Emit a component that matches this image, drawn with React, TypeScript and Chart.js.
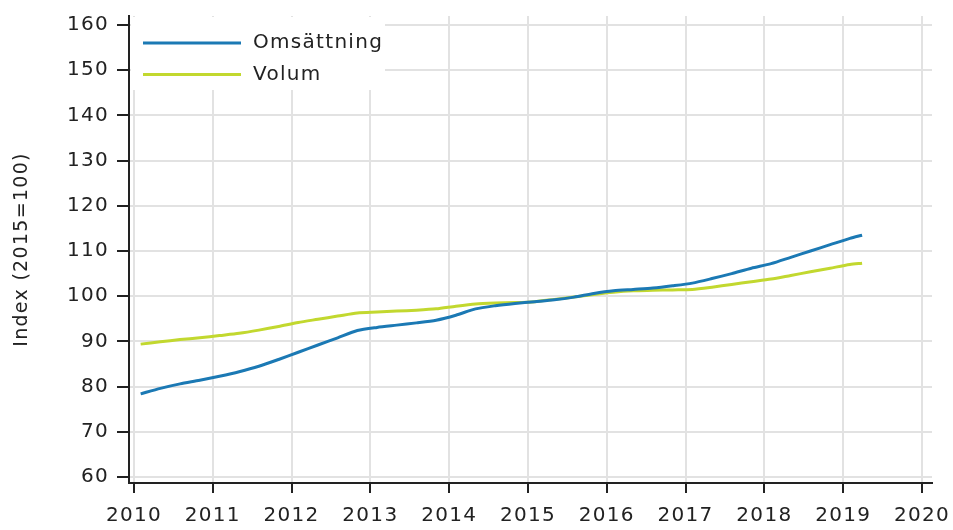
import React, { useEffect, useRef } from "react";
import { Chart, registerables } from "chart.js";

Chart.register(...registerables);

const seriesNames = ["Omsättning", "Volum"];
const seriesColors = ["#1b79b4", "#c2d82f"];
const yAxisTitle = "Index (2015=100)";

// decimal-year positions of quarterly observations
const periods = [
  2010.085, 2010.335, 2010.585, 2010.835,
  2011.085, 2011.335, 2011.585, 2011.835,
  2012.085, 2012.335, 2012.585, 2012.835,
  2013.085, 2013.335, 2013.585, 2013.835,
  2014.085, 2014.335, 2014.585, 2014.835,
  2015.085, 2015.335, 2015.585, 2015.835,
  2016.085, 2016.335, 2016.585, 2016.835,
  2017.085, 2017.335, 2017.585, 2017.835,
  2018.085, 2018.335, 2018.585, 2018.835,
  2019.085, 2019.24,
];

const omsattning = [
  78.4, 79.6, 80.6, 81.4,
  82.3, 83.3, 84.5, 86.0,
  87.6, 89.2, 90.8, 92.4,
  93.1, 93.6, 94.1, 94.7,
  95.8, 97.2, 97.9, 98.4,
  98.8, 99.2, 99.8, 100.6,
  101.2, 101.5, 101.8, 102.3,
  102.9, 103.9, 105.0, 106.2,
  107.2, 108.6, 110.0, 111.4,
  112.8, 113.5,
];

const volum = [
  89.4, 89.9, 90.4, 90.8,
  91.3, 91.8, 92.5, 93.3,
  94.2, 94.9, 95.6, 96.3,
  96.5, 96.7, 96.9, 97.2,
  97.8, 98.3, 98.5, 98.6,
  98.8, 99.3, 99.8, 100.4,
  100.9, 101.2, 101.3, 101.4,
  101.5, 102.0, 102.6, 103.2,
  103.8, 104.6, 105.4, 106.2,
  107.0, 107.3,
];

const xTicks = [2010, 2011, 2012, 2013, 2014, 2015, 2016, 2017, 2018, 2019, 2020];
const yTicks = [60, 70, 80, 90, 100, 110, 120, 130, 140, 150, 160];

const FONT = "'DejaVu Sans', sans-serif";
const SPACING = "1.3px";

const spacingPlugin = {
  id: "letterSpacing",
  beforeDraw(chart: any) {
    (chart.ctx as any).letterSpacing = SPACING;
  },
};

const legendPlugin = {
  id: "insideLegend",
  afterDraw(chart: any) {
    const ctx = chart.ctx;
    const area = chart.chartArea;
    const x0 = area.left + 2;
    const y0 = area.top + 1;
    ctx.save();
    (ctx as any).letterSpacing = SPACING;
    ctx.fillStyle = "#ffffff";
    ctx.fillRect(x0, y0, 254, 73);
    chart.data.datasets.forEach((ds: any, i: number) => {
      const y = y0 + 26 + i * 31.5;
      ctx.strokeStyle = ds.borderColor;
      ctx.lineWidth = 3;
      ctx.beginPath();
      ctx.moveTo(x0 + 12, y);
      ctx.lineTo(x0 + 110, y);
      ctx.stroke();
      ctx.fillStyle = "#222222";
      ctx.font = `20px ${FONT}`;
      ctx.textBaseline = "middle";
      ctx.textAlign = "left";
      ctx.fillText(ds.label, x0 + 122, y);
    });
    ctx.restore();
  },
};

export default function App() {
  const ref = useRef<HTMLCanvasElement | null>(null);

  useEffect(() => {
    document.body.style.margin = "0";
    const canvas = ref.current;
    if (!canvas) return;
    const chart = new Chart(canvas, {
      type: "line",
      data: {
        datasets: [
          {
            label: seriesNames[0],
            data: periods.map((p, i) => ({ x: p, y: omsattning[i] })),
            borderColor: seriesColors[0],
            backgroundColor: seriesColors[0],
            borderWidth: 3,
            pointRadius: 0,
            tension: 0.25,
          },
          {
            label: seriesNames[1],
            data: periods.map((p, i) => ({ x: p, y: volum[i] })),
            borderColor: seriesColors[1],
            backgroundColor: seriesColors[1],
            borderWidth: 3,
            pointRadius: 0,
            tension: 0.25,
          },
        ],
      },
      options: {
        responsive: false,
        animation: false,
        layout: { padding: { left: 0, right: 21, top: 16, bottom: 0 } },
        plugins: {
          legend: { display: false },
          tooltip: { enabled: false },
        },
        scales: {
          x: {
            type: "linear",
            min: 2009.937,
            max: 2020.127,
            afterBuildTicks: (s: any) => {
              s.ticks = xTicks.map((v) => ({ value: v }));
            },
            afterFit: (s: any) => {
              s.height = 47;
              s.paddingLeft = 0;
              s.paddingRight = 0;
            },
            ticks: {
              autoSkip: false,
              maxRotation: 0,
              color: "#222222",
              font: { family: FONT, size: 20 },
              padding: 11,
              callback: (v: any) => String(v),
            },
            grid: {
              color: "#e2e2e2",
              lineWidth: 2,
              tickColor: "#222222",
              tickLength: 10,
              tickWidth: 2,
            },
            border: { color: "#222222", width: 2 },
          },
          y: {
            type: "linear",
            min: 58.67,
            max: 162,
            afterBuildTicks: (s: any) => {
              s.ticks = yTicks.map((v) => ({ value: v }));
            },
            afterFit: (s: any) => {
              s.width = 129;
              s.paddingTop = 0;
              s.paddingBottom = 0;
            },
            title: {
              display: true,
              text: yAxisTitle,
              color: "#222222",
              font: { family: FONT, size: 19 },
              padding: { top: 11, bottom: 4 },
            },
            ticks: {
              color: "#222222",
              font: { family: FONT, size: 20 },
              padding: 8,
              callback: (v: any) => String(v),
            },
            grid: {
              color: "#e2e2e2",
              lineWidth: 2,
              tickColor: "#222222",
              tickLength: 12,
              tickWidth: 2,
            },
            border: { color: "#222222", width: 2 },
          },
        },
      },
      plugins: [spacingPlugin, legendPlugin],
    });
    return () => chart.destroy();
  }, []);

  return (
    <canvas
      ref={ref}
      width={953}
      height={530}
      style={{ display: "block", width: 953, height: 530 }}
    />
  );
}
